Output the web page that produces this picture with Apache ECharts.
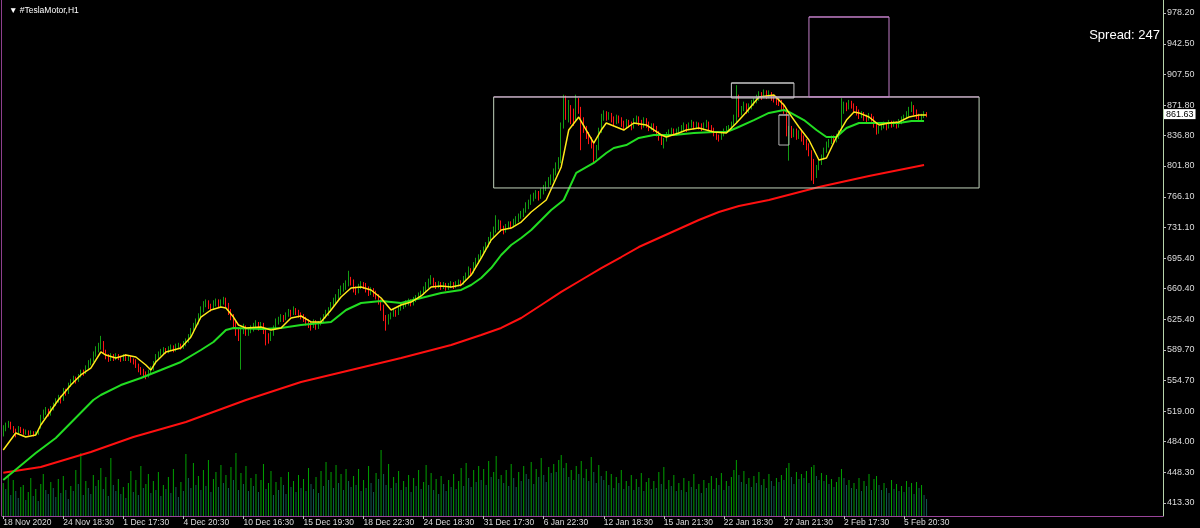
<!DOCTYPE html>
<html>
<head>
<meta charset="utf-8">
<script src="https://cdn.jsdelivr.net/npm/echarts@6/dist/echarts.min.js"></script>
<style>
  html, body { margin: 0; padding: 0; background: #000; }
  #chart { width: 1200px; height: 528px; }
</style>
</head>
<body>
<div id="chart"></div>
<script>
// #TeslaMotor, H1 - hourly candles, 18 Nov 2020 .. 8 Feb 2021

const xLabels = ['18 Nov 2020', '24 Nov 18:30', '1 Dec 17:30', '4 Dec 20:30', '10 Dec 16:30',
  '15 Dec 19:30', '18 Dec 22:30', '24 Dec 18:30', '31 Dec 17:30', '6 Jan 22:30', '12 Jan 18:30',
  '15 Jan 21:30', '22 Jan 18:30', '27 Jan 21:30', '2 Feb 17:30', '5 Feb 20:30'];
const barsPerLabel = 24;

const priceTicks = [413.30, 448.30, 484.00, 519.00, 554.70, 589.70, 625.40, 660.40, 695.40,
  731.10, 766.10, 801.80, 836.80, 871.80, 907.50, 942.50, 978.20];

// [open, close, low, high]
const candles = [
  [494,498,490,503],[498,503,496,506],[503,505,500,508],[505,500,498,507],[500,497,494,502],[497,495,489,499],[495,499,493,502],[499,497,494,501],[497,495,492,499],[495,496,492,498],
  [496,494,491,497],[494,495,492,497],[495,493,490,496],[493,494,491,496],[494,497,492,499],[500,512,499,515],[512,518,510,521],[518,520,515,524],[520,516,513,522],[516,522,514,525],
  [522,527,520,529],[527,532,525,534],[532,535,529,538],[535,531,528,537],[533,543,531,546],[543,540,537,545],[541,550,539,552],[550,553,547,556],[553,557,551,560],[557,555,551,559],
  [555,560,553,562],[560,565,558,567],[565,563,560,567],[563,570,562,572],[570,575,568,578],[575,578,572,580],[578,585,576,588],[585,590,582,594],[590,594,587,598],[594,597,590,606],
  [597,588,586,600],[588,582,579,590],[582,579,576,585],[579,583,577,586],[583,580,577,585],[580,583,578,586],[583,581,578,585],[581,579,576,583],[579,583,577,585],[583,580,577,585],
  [580,581,577,584],[581,578,575,583],[578,577,573,580],[577,572,569,579],[572,568,564,574],[568,566,561,570],[566,563,559,568],[563,560,556,565],[560,565,558,567],[565,568,562,571],
  [568,575,566,577],[575,582,573,585],[582,585,580,588],[585,588,583,591],[588,590,585,593],[590,588,585,592],[588,591,586,594],[591,593,589,596],[593,590,587,595],[590,594,588,597],
  [594,595,591,598],[595,593,590,597],[593,597,591,600],[597,600,594,603],[600,605,598,608],[605,612,603,615],[612,618,609,621],[618,622,615,626],[622,628,619,632],[628,636,625,640],
  [636,642,633,646],[642,645,639,648],[645,640,637,647],[640,638,634,643],[638,644,636,647],[644,646,640,649],[646,641,638,648],[641,645,639,648],[645,648,642,651],[648,642,639,650],
  [642,634,630,644],[634,628,624,637],[628,620,616,631],[620,612,606,623],[612,604,600,614],[602,612,567,615],[612,615,608,620],[615,610,606,618],[610,612,606,616],[612,614,609,618],
  [614,618,611,621],[618,620,615,624],[620,616,612,622],[616,619,613,622],[619,612,608,621],[612,606,595,614],[606,602,597,609],[602,608,600,611],[608,615,606,618],[615,622,613,626],
  [622,625,619,628],[625,628,622,631],[628,626,622,630],[626,630,624,633],[630,633,628,637],[633,632,628,636],[632,636,630,640],[636,634,630,638],[634,631,627,636],[631,629,625,633],
  [629,626,622,631],[626,622,618,628],[622,620,615,625],[620,618,612,622],[618,622,615,625],[622,617,613,624],[617,620,614,623],[620,624,618,627],[624,628,621,631],[628,632,626,636],
  [632,636,629,639],[636,642,634,645],[642,646,640,650],[646,650,643,654],[650,656,648,660],[656,660,653,664],[660,662,657,667],[662,666,659,670],[666,670,663,681],[670,668,664,674],
  [668,660,656,671],[660,657,653,663],[657,662,655,666],[662,665,660,669],[665,664,660,668],[664,660,656,667],[660,656,652,663],[656,659,653,662],[659,655,651,661],[655,652,648,658],
  [652,646,642,654],[646,640,635,648],[640,628,623,642],[628,622,612,630],[622,628,619,631],[628,630,625,633],[630,634,628,637],[634,632,628,636],[632,638,630,641],[638,640,635,643],
  [640,642,637,645],[642,644,639,647],[644,646,641,649],[646,643,640,648],[643,648,641,651],[648,650,645,653],[650,652,648,656],[652,655,650,658],[655,660,653,663],[660,664,657,668],
  [664,668,661,672],[668,670,665,676],[670,666,662,673],[666,664,660,668],[664,666,661,669],[666,663,659,668],[663,665,660,668],[665,662,658,667],[662,664,659,667],[664,666,661,669],
  [666,664,660,668],[664,666,661,669],[666,668,663,671],[668,667,663,670],[667,672,665,675],[672,676,670,679],[676,682,674,686],[682,680,676,684],[680,688,678,691],[688,692,685,696],
  [692,697,689,700],[697,702,694,705],[702,706,699,709],[706,710,703,714],[710,716,708,720],[716,722,713,726],[722,728,719,732],[728,732,725,745],[732,736,728,740],[736,730,726,739],
  [730,728,723,733],[728,732,725,735],[732,735,729,738],[735,733,729,738],[733,737,731,741],[737,740,734,744],[740,744,737,747],[744,746,741,750],[746,750,743,753],[750,756,748,760],
  [756,760,752,763],[760,765,757,769],[765,768,761,771],[768,770,764,774],[770,766,762,773],[766,772,764,776],[772,776,769,780],[776,780,773,784],[780,784,777,789],[784,787,780,792],
  [787,795,784,799],[795,802,791,806],[802,808,798,812],[808,848,805,852],[850,872,845,884],[875,862,855,883],[860,866,852,878],[866,858,850,872],[858,855,848,868],[856,876,854,884],
  [876,868,862,880],[868,855,820,870],[855,845,840,858],[845,838,833,848],[838,832,827,841],[832,828,822,835],[828,815,805,830],[815,822,810,826],[822,842,820,846],[842,858,840,862],
  [858,862,854,866],[862,858,854,865],[858,860,855,864],[860,856,852,863],[856,852,848,859],[852,858,850,861],[858,855,851,860],[855,851,847,858],[851,848,844,854],[848,852,845,856],
  [852,850,846,855],[850,847,843,853],[847,853,845,857],[853,856,850,860],[856,852,848,859],[852,848,844,855],[848,854,846,858],[854,850,846,857],[850,846,842,853],[846,848,843,851],
  [848,845,841,851],[845,840,836,848],[840,836,831,842],[836,830,826,838],[830,832,822,834],[832,838,830,841],[838,841,835,844],[841,843,838,846],[843,840,837,845],[840,842,837,845],
  [842,844,839,847],[844,846,841,849],[846,848,843,852],[848,845,841,850],[845,849,843,852],[849,851,846,855],[851,847,844,853],[847,850,845,853],[850,848,844,852],[848,846,842,851],
  [846,849,843,852],[849,851,846,855],[851,847,843,853],[847,844,840,849],[844,840,836,846],[840,836,832,842],[836,834,830,838],[834,838,832,841],[838,842,836,845],[842,845,840,848],
  [845,846,842,849],[846,850,844,853],[850,858,848,861],[855,880,852,895],[880,862,858,884],[862,868,860,871],[868,872,865,876],[872,866,862,874],[866,870,863,874],[870,874,867,878],
  [874,876,871,880],[876,880,874,884],[880,884,877,888],[884,882,878,887],[882,886,880,890],[886,883,879,889],[883,885,880,889],[885,881,877,887],[881,879,875,884],[879,877,872,882],
  [877,875,871,880],[875,870,866,878],[870,866,862,874],[866,840,836,868],[832,845,808,848],[845,838,834,848],[838,842,835,845],[842,836,832,845],[836,840,833,843],[840,834,830,843],
  [834,830,826,837],[830,825,820,833],[825,818,813,828],[818,808,785,820],[808,796,781,810],[796,800,788,803],[800,806,797,809],[806,812,803,815],[812,820,809,823],[820,826,817,830],
  [826,830,823,833],[830,834,827,837],[834,832,828,837],[832,836,829,839],[836,840,833,843],[842,866,840,880],[866,872,862,876],[872,870,865,875],[870,874,867,878],[874,872,868,877],
  [872,868,864,874],[868,864,860,871],[864,860,856,867],[860,862,857,865],[862,858,854,864],[858,856,852,861],[856,860,854,863],[860,857,853,862],[857,850,846,859],[850,842,838,852],
  [842,845,839,848],[845,848,843,851],[848,850,845,853],[850,847,843,852],[847,852,845,855],[852,849,846,854],[849,851,847,854],[851,848,845,853],[848,853,846,856],[853,856,850,859],
  [856,858,853,861],[858,862,856,865],[862,866,859,870],[866,870,864,876],[870,864,860,872],[864,860,856,867],[860,857,853,862],[857,859,854,862],[859,862,857,865],[862,861.63,858,864]
];

const volumes = [
  3300,2700,3900,2100,3600,2500,1800,2900,3100,1600, 2400,3800,2000,2700,1500,3200,4200,2600,2200,3400,
  2800,1900,3700,2300,4000,2600,1700,3000,2500,4600, 3200,6300,2100,3500,2800,2200,4100,3000,3600,4800,
  2700,3900,2000,5800,3100,2500,3700,2200,2900,1800, 3300,4500,2400,3600,2100,5000,2800,3200,4200,2300,
  3500,2600,4400,2000,3100,2700,3900,2300,4700,2900, 1900,3400,2500,6200,3800,2800,5300,3100,4000,2600,
  4600,3000,5600,2400,3700,4400,2900,5100,3300,4100, 2800,4900,3600,6300,2600,4300,3200,5000,2500,3800,
  3000,4200,2400,3600,5200,2700,3300,4500,2100,3400, 2600,3900,3100,2200,4400,2900,3500,2400,4100,2800,
  3700,2500,4800,3200,2700,3900,2300,4500,3000,5400, 3600,4400,2800,5100,3300,4200,2600,4700,3500,2900,
  4000,3100,4700,2500,3600,2800,5000,3300,2400,4300, 3700,6600,4200,3100,5200,2800,3900,3300,4500,2600,
  3500,2900,4100,2400,3800,3000,4600,2700,3400,5100, 3100,4300,2600,3700,2200,4000,3200,2500,3600,2900,
  4200,2700,3500,4800,3000,5300,3800,2900,4600,3400, 5000,3600,4700,3100,5500,3900,4400,6000,3700,4100,
  3300,4600,3000,5200,3800,2900,4400,3500,5000,4200, 3700,5400,3200,4700,3900,5800,4100,3400,4900,4300,
  5200,4400,5600,6100,4800,5300,3900,4600,3600,5000, 4200,5500,3800,4700,3500,5900,4400,3300,5100,4000,
  3600,4500,3100,4200,2800,3900,3300,4600,2700,3500, 3000,4100,2600,3700,2900,4300,2500,3400,3800,2700,
  3500,2800,4400,3200,4900,2700,3600,3000,4100,2500, 3300,2600,3800,2400,3500,2900,4200,2700,3200,2300,
  3600,2800,3300,4000,2700,3800,3100,4300,2600,3500, 3000,3900,4600,5600,4100,3400,4500,3200,3800,2900,
  4000,3300,4400,3100,3700,2800,4200,3500,3000,3800, 3400,4100,3600,4800,5300,3900,3200,4400,3700,4200,
  3800,4500,3300,4900,5100,4000,3600,4300,3500,4100, 3200,3700,2900,3400,3900,4700,3800,3100,3600,2800,
  3300,2700,3800,2500,3500,3000,4200,2600,3700,4000, 3100,2600,3300,2800,2300,3600,2700,3200,2500,3000,
  2400,3500,2900,3300,2200,3400,2800,3100,2100,1700
];

// moving averages, [bar index, price]
const maFast = [[0,474.4],[5,494.0],[9,489.4],[13,491.7],[15,503.2],[22,532.0],[27,549.3],[31,560.9],[35,568.9],[39,587.4],
  [41,583.9],[45,580.5],[49,583.9],[53,581.6],[57,572.4],[59,566.6],[61,575.9],[65,587.4],[71,592.0],[75,604.7],
  [79,627.7],[83,635.8],[87,639.3],[89,638.1],[92,627.7],[94,618.5],[97,615.0],[103,616.2],[107,612.7],[111,615.0],
  [115,626.6],[119,628.9],[123,622.0],[127,622.0],[131,635.8],[135,650.8],[139,661.2],[143,662.3],[147,658.9],[151,649.6],
  [155,635.8],[159,641.6],[163,645.0],[167,652.0],[171,662.3],[175,663.5],[179,662.3],[183,664.6],[187,676.1],[191,695.7],
  [195,716.5],[199,728.0],[203,730.3],[207,737.2],[211,748.8],[217,762.6],[223,800.7],[226,843.3],[230,858.3],[233,843.3],
  [236,828.3],[239,843.3],[241,851.4],[245,846.8],[248,843.3],[252,851.4],[257,849.1],[263,837.6],[265,835.2],[270,839.9],
  [273,843.3],[278,845.6],[284,841.0],[289,839.9],[293,851.4],[297,864.1],[302,881.4],[308,883.7],[312,872.2],[314,863.0],
  [318,846.8],[322,831.8],[326,808.7],[329,811.0],[333,835.2],[337,854.8],[340,864.1],[342,863.0],[346,858.3],[350,849.1],
  [354,851.4],[358,852.6],[362,858.3],[366,860.6],[369,860.6]];

const maSlow = [[0,439.8],[13,470.9],[21,488.2],[36,532.0],[39,537.8],[47,549.3],[55,557.4],[63,566.6],[71,575.9],[79,589.7],
  [84,598.9],[89,612.7],[92,615.0],[104,613.9],[111,615.0],[119,618.5],[131,622.0],[137,635.8],[143,643.9],[151,646.2],
  [159,643.9],[167,649.6],[175,655.4],[183,658.9],[187,664.6],[191,672.7],[195,684.2],[199,699.2],[203,710.7],[207,718.8],
  [211,728.0],[215,739.6],[219,751.1],[224,762.6],[229,793.8],[236,805.3],[241,816.8],[244,822.6],[249,826.0],[254,834.1],
  [260,837.6],[268,837.6],[276,839.9],[284,841.0],[289,841.0],[293,845.6],[300,854.8],[306,863.0],[312,866.4],[314,864.1],
  [320,854.8],[325,843.3],[329,835.2],[333,835.2],[337,845.6],[342,851.4],[348,851.4],[353,851.4],[358,851.4],[363,853.7],
  [368,853.7]];

const maLong = [[0,448.2],[15,454.8],[35,472.1],[52,489.4],[73,506.7],[97,532.0],[119,552.8],[139,566.6],[159,580.5],[179,595.5],
  [191,607.0],[199,615.1],[207,626.6],[215,641.6],[223,656.6],[231,670.4],[239,684.2],[247,696.9],[254,708.4],[262,718.8],
  [270,729.2],[278,739.6],[286,748.8],[294,755.7],[306,762.6],[326,777.6],[346,790.3],[368,803.0]];

// rectangles drawn on the chart: [from bar, to bar, low price, high price]
const boxes = [
  [196, 390, 776.5, 881.4],
  [291, 316, 880.2, 897.5],
  [322, 354, 881.4, 973.6],
  [310, 314, 826.0, 860.6]
];
const boxColors = ['#c2d3bc', '#c8c8c8', '#c27fc8', '#b4b4b4'];
const boxTopColors = ['#cfa3d2', '#c8c8c8', '#c27fc8', '#b4b4b4'];

const slotCount = 464;
const spread = 247;

const UP = '#129c12';
const DOWN = '#ff1414';
const FONT = 'Liberation Sans, DejaVu Sans, Arial, sans-serif';

const chart = echarts.init(document.getElementById('chart'), null, { renderer: 'canvas' });
const slots = Array.from({ length: slotCount }, (_, i) => i);
const lastClose = candles[candles.length - 1][1];
const isLabelSlot = (idx) => idx % barsPerLabel === 0 && idx / barsPerLabel < xLabels.length;

const option = {
  backgroundColor: '#000',
  animation: false,
  title: {
    text: '\u25BC #TeslaMotor,H1',
    left: 4,
    top: 1,
    textStyle: { color: '#fff', fontSize: 8.5, fontWeight: 'normal', fontFamily: FONT }
  },
  graphic: [
    {
      type: 'text',
      right: 40,
      top: 29,
      style: { text: 'Spread: ' + spread, fill: '#fff', font: '13px ' + FONT }
    },
    {
      type: 'line',
      shape: { x1: 1.5, y1: 0, x2: 1.5, y2: 516 },
      style: { stroke: '#8d3f8d', lineWidth: 1 }
    }
  ],
  grid: [
    { left: 2, right: 37, top: 0, bottom: 12 },
    { left: 2, right: 37, bottom: 12, height: 70 }
  ],
  xAxis: [
    {
      type: 'category',
      gridIndex: 0,
      data: slots,
      boundaryGap: true,
      axisLine: { show: true, lineStyle: { color: '#9a449a', width: 1 } },
      axisTick: {
        show: true,
        alignWithLabel: true,
        interval: isLabelSlot,
        length: 3,
        lineStyle: { color: '#bdbdbd' }
      },
      axisLabel: {
        show: true,
        interval: isLabelSlot,
        align: 'left',
        margin: 2,
        color: '#dcdcdc',
        fontSize: 8.5,
        fontFamily: FONT,
        hideOverlap: false,
        formatter: (value, idx) => (isLabelSlot(idx) ? xLabels[idx / barsPerLabel] : '')
      },
      splitLine: { show: false }
    },
    {
      type: 'category',
      gridIndex: 1,
      data: slots,
      boundaryGap: true,
      show: false
    }
  ],
  yAxis: [
    {
      type: 'value',
      gridIndex: 0,
      position: 'right',
      min: 398.31,
      max: 993.19,
      scale: true,
      axisLine: { show: true, lineStyle: { color: '#b6d3aa', width: 1 } },
      axisTick: {
        show: true,
        length: 3,
        customValues: priceTicks,
        lineStyle: { color: '#bdbdbd' }
      },
      axisLabel: {
        show: true,
        customValues: priceTicks,
        margin: 4,
        color: '#dcdcdc',
        fontSize: 9,
        fontFamily: FONT,
        formatter: (v) => v.toFixed(2)
      },
      splitLine: { show: false }
    },
    {
      type: 'value',
      gridIndex: 1,
      min: 0,
      max: 7000,
      show: false,
      splitLine: { show: false }
    }
  ],
  series: [
    {
      name: 'Volumes',
      type: 'bar',
      xAxisIndex: 1,
      yAxisIndex: 1,
      barWidth: 1,
      data: volumes,
      itemStyle: {
        color: (p) => (p.dataIndex === 0 || volumes[p.dataIndex] >= volumes[p.dataIndex - 1] ? '#00a000' : '#135a50')
      },
      z: 1
    },
    {
      name: 'Price',
      type: 'candlestick',
      xAxisIndex: 0,
      yAxisIndex: 0,
      barWidth: 1,
      data: candles,
      itemStyle: {
        color: UP,
        color0: DOWN,
        borderColor: UP,
        borderColor0: DOWN,
        borderWidth: 1
      },
      markLine: {
        silent: true,
        symbol: 'none',
        lineStyle: { color: 'rgba(0,0,0,0)', width: 1, type: 'solid' },
        data: [{ yAxis: lastClose }],
        label: {
          show: true,
          position: 'end',
          distance: 1,
          formatter: () => lastClose.toFixed(2),
          backgroundColor: '#ffffff',
          color: '#000000',
          fontSize: 9,
          fontFamily: FONT,
          padding: [1, 2, 0, 2]
        }
      },
      z: 2
    },
    {
      name: 'MA long',
      type: 'line',
      data: maLong,
      showSymbol: false,
      lineStyle: { color: '#ff1010', width: 2 },
      z: 3
    },
    {
      name: 'MA slow',
      type: 'line',
      data: maSlow,
      showSymbol: false,
      lineStyle: { color: '#22dd22', width: 2 },
      z: 4
    },
    {
      name: 'MA fast',
      type: 'line',
      data: maFast,
      showSymbol: false,
      lineStyle: { color: '#ffe81a', width: 1.5 },
      z: 5
    },
    {
      name: 'Boxes',
      type: 'custom',
      xAxisIndex: 0,
      yAxisIndex: 0,
      data: boxes,
      renderItem: (params, api) => {
        const p1 = api.coord([api.value(0), api.value(3)]);
        const p2 = api.coord([api.value(1), api.value(2)]);
        const i = params.dataIndex;
        return {
          type: 'group',
          children: [
            {
              type: 'rect',
              shape: { x: p1[0], y: p1[1], width: p2[0] - p1[0], height: p2[1] - p1[1] },
              style: { fill: 'none', stroke: boxColors[i], lineWidth: 1 }
            },
            {
              type: 'line',
              shape: { x1: p1[0], y1: p1[1], x2: p2[0], y2: p1[1] },
              style: { stroke: boxTopColors[i], lineWidth: 1 }
            }
          ]
        };
      },
      z: 6
    }
  ]
};

chart.setOption(option);
</script>
</body>
</html>
